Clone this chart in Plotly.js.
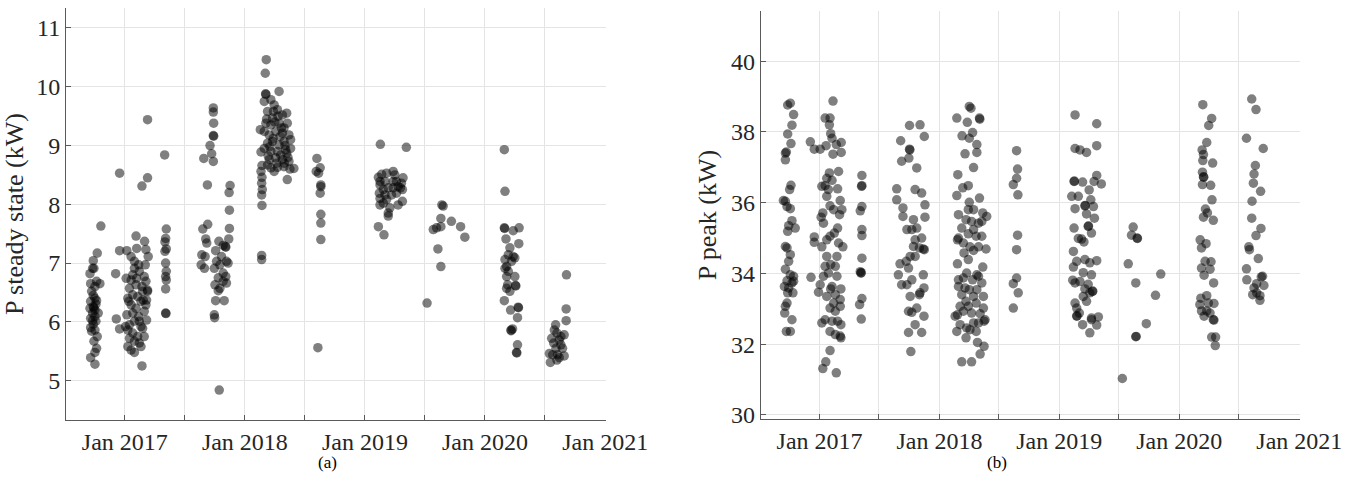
<!DOCTYPE html>
<html>
<head>
<meta charset="utf-8">
<script src="https://cdn.plot.ly/plotly-3.0.1.min.js"></script>
<style>html,body{margin:0;padding:0;background:#fff;}#chart{width:1358px;height:482px;}</style>
</head>
<body>
<div id="chart"></div>
<script>
// ---------- (a) P steady state (kW) ----------
const steadyDates = [
  // autumn 2016
  "2016-10-20","2016-10-09","2016-09-27","2016-09-25","2016-09-17","2016-10-07","2016-10-17","2016-09-19","2016-10-02","2016-09-22","2016-09-27","2016-10-02","2016-10-07","2016-09-19","2016-09-27","2016-09-17","2016-10-02","2016-09-25","2016-10-12","2016-10-02","2016-09-19","2016-10-05","2016-09-27","2016-09-19","2016-10-02","2016-09-22","2016-10-09","2016-09-29","2016-10-07","2016-10-02","2016-09-19","2016-10-02","2016-09-29","2016-10-05","2016-09-25","2016-09-29",
  // winter 2016/17
  "2016-12-16","2017-03-11","2017-02-22","2017-03-11","2016-12-16","2016-12-04","2016-12-06","2016-12-16","2017-01-07","2017-02-04","2017-02-06","2017-03-02","2017-03-06","2017-03-13","2017-03-04","2017-01-20","2017-01-30",
  "2017-01-05","2017-01-25","2017-02-14","2017-03-01","2017-01-15","2017-02-04","2017-02-22","2017-03-11","2017-01-10","2017-01-25","2017-02-09","2017-02-26","2017-01-20","2017-02-04","2017-02-19","2017-03-06","2017-01-07","2017-01-25","2017-02-12","2017-03-01","2017-01-15","2017-01-30","2017-02-19","2017-03-08","2017-01-10","2017-01-25","2017-02-09","2017-02-24","2017-01-15","2017-01-30","2017-02-14","2017-01-10","2017-01-20","2017-02-19","2017-01-30","2017-02-22","2017-01-03","2017-03-11","2017-03-06","2017-02-06","2017-01-20","2017-02-24","2017-02-12","2017-01-30","2017-03-08","2017-01-13","2017-02-14","2017-03-01",
  // May 2017
  "2017-05-02","2017-05-07","2017-05-05","2017-05-03","2017-05-07","2017-05-03","2017-05-05","2017-05-07","2017-05-05","2017-05-07","2017-05-05","2017-05-05","2017-05-06",
  // autumn 2017
  "2017-08-29","2017-09-09","2017-09-27","2017-09-27","2017-09-28","2017-09-27","2017-09-28","2017-09-17","2017-09-22","2017-09-27",
  "2017-08-26","2017-09-10","2017-09-04","2017-09-07","2017-08-23","2017-09-02","2017-08-21","2017-08-31",
  "2017-10-14","2017-10-04","2017-10-27","2017-11-03","2017-11-04","2017-11-13","2017-11-15","2017-11-15","2017-11-14","2017-11-17",
  "2017-10-07","2017-10-22","2017-11-06","2017-11-11","2017-09-30","2017-10-17","2017-10-27","2017-10-12","2017-11-04","2017-10-02","2017-10-17","2017-10-12","2017-11-06","2017-10-27","2017-10-04","2017-10-30","2017-09-30","2017-10-01","2017-10-15",
  // spring 2018
  "2018-03-07","2018-03-04","2018-03-05","2018-03-06","2018-04-15","2018-02-17","2018-02-19","2018-02-22","2018-02-19","2018-02-22","2018-02-21","2018-02-23","2018-02-21","2018-02-22","2018-02-21","2018-02-21",
  "2018-03-01","2018-03-21","2018-03-31","2018-03-11","2018-04-10","2018-04-25","2018-03-26","2018-05-08","2018-03-06","2018-03-21","2018-04-15","2018-05-10","2018-03-01","2018-03-16","2018-04-05","2018-04-25","2018-05-15","2018-03-11","2018-03-26","2018-04-15","2018-04-30","2018-05-20","2018-03-01","2018-03-21","2018-04-10","2018-05-05","2018-05-20","2018-03-16","2018-04-05","2018-04-25","2018-05-15","2018-03-21","2018-04-10","2018-04-30","2018-05-18","2018-03-31","2018-03-11","2018-05-10","2018-04-20","2018-03-29","2018-04-30","2018-05-30","2018-03-13","2018-04-18","2018-05-08",
  "2018-03-08","2018-04-02","2018-04-22","2018-05-03","2018-03-18","2018-04-08","2018-05-12","2018-03-28","2018-04-12","2018-05-01",
  // Aug 2018
  "2018-08-08","2018-08-06","2018-08-18","2018-08-13","2018-08-20","2018-08-20","2018-08-18","2018-08-20","2018-08-20","2018-08-20","2018-08-11",
  // spring 2019
  "2019-02-17","2019-05-07","2019-02-11","2019-02-21","2019-02-16","2019-03-08","2019-03-28","2019-04-02","2019-04-27","2019-04-22","2019-04-12","2019-03-28","2019-03-13","2019-02-26","2019-02-14","2019-03-03","2019-03-23","2019-04-07","2019-04-25","2019-02-16","2019-03-08","2019-02-16","2019-02-26","2019-03-18","2019-03-13","2019-03-13","2019-04-12","2019-04-25","2019-02-11","2019-02-28","2019-03-28","2019-02-16","2019-03-03","2019-04-07","2019-04-19",
  // summer/autumn 2019
  "2019-07-09","2019-08-23","2019-08-27","2019-08-20","2019-08-20","2019-09-21","2019-10-19","2019-11-01","2019-07-28","2019-08-07","2019-08-11","2019-08-20",
  // spring 2020
  "2020-02-29","2020-03-02","2020-02-29","2020-03-01","2020-03-27","2020-04-14","2020-03-05","2020-04-13","2020-03-17","2020-03-12","2020-04-01","2020-03-02","2020-03-22","2020-03-07","2020-03-12","2020-04-01","2020-03-07","2020-03-10","2020-04-03","2020-04-04","2020-03-17","2020-03-07","2020-02-29","2020-03-19","2020-04-11","2020-04-12","2020-04-09","2020-03-20","2020-03-21","2020-03-25","2020-04-09","2020-04-06","2020-04-07","2020-03-02","2020-03-27",
  // summer 2020
  "2020-09-05","2020-09-04","2020-09-04","2020-08-03","2020-07-30","2020-08-07","2020-07-22","2020-08-19","2020-08-29","2020-08-14","2020-07-28","2020-08-24","2020-07-15","2020-08-09","2020-08-29","2020-07-18","2020-08-07","2020-08-19","2020-08-04","2020-07-25","2020-08-14"
];
const steadyKW = [
  7.63,7.17,7.04,6.91,6.82,6.69,6.65,6.65,6.60,6.52,6.45,6.40,6.36,6.35,6.26,6.23,6.20,6.15,6.15,6.09,6.06,6.01,5.96,5.90,5.86,5.84,5.75,5.67,5.55,5.48,5.39,5.28,6.91,6.30,6.02,6.24,
  8.53,9.44,8.31,8.45,7.21,6.82,6.05,5.88,7.21,7.46,7.25,7.37,7.23,7.11,6.97,7.11,7.03,
  6.74,6.80,6.86,6.77,6.57,6.63,6.60,6.54,6.40,6.46,6.43,6.37,6.29,6.23,6.35,6.29,6.12,6.15,6.09,6.18,5.95,6.01,5.92,6.03,5.86,5.81,5.75,5.89,5.72,5.67,5.64,5.58,5.52,5.58,5.48,5.25,5.92,6.52,6.69,6.74,6.71,6.52,6.97,6.91,6.37,6.35,6.01,5.75,
  8.84,7.58,7.42,7.36,7.24,7.20,7.00,6.86,6.77,6.71,6.56,6.15,6.14,
  8.78,8.33,9.64,9.57,9.38,9.17,9.16,9.00,8.86,8.73,
  7.58,7.66,7.41,7.34,7.14,7.11,6.97,6.91,
  7.37,7.21,7.30,7.28,7.27,7.41,7.59,7.90,8.20,8.32,
  7.03,7.11,7.03,7.00,6.91,6.97,6.83,6.75,6.77,6.63,6.57,6.53,6.66,6.69,6.36,6.36,6.12,6.07,4.84,
  10.46,10.23,9.88,9.87,9.92,9.27,8.89,8.66,8.56,8.46,8.36,8.25,8.16,7.98,7.13,7.06,
  9.75,9.78,9.69,9.58,9.61,9.52,9.47,9.55,9.38,9.35,9.38,9.38,9.24,9.18,9.24,9.21,9.18,9.04,9.07,9.01,9.07,9.10,8.95,8.90,8.90,8.93,8.95,8.76,8.79,8.76,8.73,8.62,8.63,8.64,8.60,8.56,8.67,8.42,8.84,9.58,9.30,8.61,8.82,9.15,8.87,
  9.45,9.40,9.30,9.00,8.98,8.70,8.80,9.12,9.50,8.70,
  8.78,8.56,8.62,8.53,8.33,8.30,8.19,7.83,7.68,7.40,5.56,
  9.02,8.97,8.46,8.51,8.39,8.53,8.56,8.50,8.45,8.36,8.30,8.28,8.28,8.25,8.19,8.16,8.16,8.19,8.25,8.10,8.08,7.99,8.02,7.94,7.85,7.80,7.99,8.05,7.62,7.48,8.39,8.33,8.39,8.39,8.28,
  6.32,7.99,7.97,7.76,7.62,7.71,7.62,7.44,7.57,7.60,7.24,6.94,
  8.93,8.22,7.60,7.59,7.55,7.60,7.41,7.33,7.26,7.14,7.09,7.06,7.03,6.94,6.86,6.77,6.77,6.63,6.62,6.61,6.52,6.57,6.36,6.20,6.25,6.24,6.07,5.86,5.85,5.88,5.61,5.48,5.47,6.91,7.11,
  6.80,6.22,6.02,5.95,5.86,5.81,5.72,5.75,5.78,5.69,5.64,5.55,5.46,5.44,5.42,5.31,5.35,5.61,5.55,5.44,5.39
];

// ---------- (b) P peak (kW) ----------
const peakDates = [
  "2016-10-04","2016-09-26","2016-10-14","2016-10-09","2016-09-26","2016-10-06","2016-09-19","2016-09-22","2016-09-19","2016-10-06","2016-10-02","2016-09-13","2016-09-19","2016-09-24","2016-10-04","2016-10-09","2016-09-29","2016-10-19","2016-09-26","2016-09-19","2016-09-24","2016-10-04","2016-09-29","2016-09-19","2016-10-04","2016-10-14","2016-09-24","2016-10-09","2016-09-16","2016-09-29","2016-09-26","2016-10-12","2016-09-24","2016-09-19","2016-09-17","2016-10-09","2016-09-22","2016-10-04","2016-10-14",
  "2017-02-11","2017-01-18","2017-02-02","2017-01-31","2017-02-04","2017-02-08","2016-12-04","2016-12-16","2017-01-03","2017-01-21","2017-02-21","2017-03-08","2017-03-08","2017-02-11",
  "2017-01-31","2017-01-23","2017-01-18","2017-02-08","2017-02-28","2017-02-25","2017-01-08","2017-01-28","2017-03-05","2017-03-10","2017-02-02","2017-01-11","2017-01-06","2017-01-13","2017-03-03","2017-02-25","2017-02-15","2017-02-02","2017-01-23","2017-01-08","2017-03-13","2016-12-16","2016-12-16","2017-02-23","2017-02-04","2017-02-18","2017-01-18","2017-01-28","2016-12-06","2017-01-03","2016-12-29","2017-02-08","2017-02-04","2017-02-18","2017-03-07","2017-01-23","2017-02-13","2017-03-05","2017-02-02","2017-02-18","2017-03-05","2017-01-18","2017-01-08","2017-02-08","2017-02-25","2017-03-07","2017-02-02","2017-02-18","2017-03-07","2017-03-05","2017-02-02","2017-01-20","2017-01-11","2017-02-21","2017-01-23","2017-02-13","2017-01-23","2017-02-28","2017-01-13","2017-02-23",
  "2017-05-10","2017-05-10","2017-05-09","2017-05-10","2017-05-05","2017-05-10","2017-05-10","2017-05-10","2017-05-05","2017-05-07","2017-05-08","2017-05-10","2017-05-03","2017-05-08",
  "2017-10-02","2017-11-03","2017-11-16","2017-09-05","2017-10-02","2017-10-03","2017-09-30","2017-09-08","2017-10-24","2017-08-24","2017-10-19","2017-11-08","2017-08-24","2017-09-12","2017-11-18","2017-09-12","2017-10-14","2017-10-24","2017-09-24","2017-10-09","2017-11-18","2017-10-19","2017-11-08","2017-10-14","2017-11-01","2017-11-16","2017-11-13","2017-10-04","2017-10-19","2017-09-22","2017-09-03","2017-09-29","2017-08-29","2017-09-24","2017-09-08","2017-10-09","2017-11-13","2017-10-04","2017-11-03","2017-11-15","2017-09-29","2017-10-09","2017-10-24","2017-11-15","2017-10-19","2017-09-29","2017-11-08","2017-10-06","2017-11-01",
  "2018-04-02","2018-04-07","2018-02-23","2018-03-27","2018-05-03","2018-05-04","2018-03-11","2018-04-02","2018-04-12","2018-04-25","2018-03-20","2018-04-25","2018-04-15","2018-02-26","2018-03-13","2018-03-30","2018-02-23","2018-05-03","2018-04-02","2018-03-30","2018-04-15","2018-02-28","2018-03-23","2018-05-13","2018-05-25","2018-04-09","2018-04-30","2018-05-10","2018-03-10","2018-04-15","2018-03-30","2018-04-23","2018-05-10","2018-02-28","2018-02-25","2018-03-15","2018-05-23","2018-04-04","2018-04-15","2018-04-30","2018-03-17","2018-03-30","2018-05-13","2018-02-25","2018-03-25","2018-04-25","2018-02-28","2018-03-15","2018-04-12","2018-04-30","2018-05-10","2018-02-28","2018-03-20","2018-04-02","2018-04-25","2018-03-10","2018-04-15","2018-05-15","2018-03-23","2018-04-23","2018-03-05","2018-03-30","2018-05-15","2018-02-25","2018-03-15","2018-04-09","2018-05-05","2018-05-20","2018-03-05","2018-03-25","2018-04-15","2018-04-30","2018-05-17","2018-02-23","2018-04-04","2018-04-23","2018-03-23","2018-04-27","2018-05-17","2018-05-05","2018-03-10","2018-04-09","2018-02-18",
  "2018-08-24","2018-08-27","2018-08-24","2018-08-14","2018-08-28","2018-08-27","2018-08-24","2018-08-24","2018-08-14","2018-08-29","2018-08-14",
  "2019-02-18","2019-04-25","2019-04-25","2019-02-18","2019-03-05","2019-03-25","2019-04-25","2019-02-15","2019-02-16","2019-03-13","2019-04-17","2019-05-09","2019-04-02","2019-02-08","2019-02-28","2019-04-07","2019-03-20","2019-03-21","2019-02-18","2019-04-15","2019-03-25","2019-04-18","2019-02-15","2019-03-30","2019-03-31","2019-02-28","2019-03-10","2019-04-09","2019-03-17","2019-02-13","2019-03-20","2019-04-25","2019-02-23","2019-04-04","2019-02-13","2019-03-15","2019-04-09","2019-02-11","2019-03-05","2019-03-30","2019-02-18","2019-03-20","2019-04-12","2019-04-13","2019-03-15","2019-04-04","2019-03-25","2019-02-18","2019-02-23","2019-03-03","2019-04-09","2019-04-30","2019-03-13","2019-04-25","2019-04-04","2019-02-23","2019-02-24","2019-04-09",
  "2019-08-14","2019-08-09","2019-08-27","2019-08-26","2019-07-30","2019-08-22","2019-11-06","2019-10-21","2019-09-23","2019-08-22","2019-08-23","2019-07-12",
  "2020-03-13","2020-04-09","2020-03-31","2020-03-25","2020-03-11","2020-03-15","2020-03-13","2020-04-12","2020-03-12","2020-03-15","2020-03-16","2020-03-12","2020-04-06","2020-04-10","2020-03-21","2020-03-27","2020-04-14","2020-03-15","2020-03-05","2020-03-09","2020-03-23","2020-03-20","2020-04-07","2020-03-09","2020-04-04","2020-03-17","2020-04-15","2020-03-25","2020-03-07","2020-03-04","2020-03-30","2020-04-16","2020-03-09","2020-03-25","2020-03-17","2020-04-04","2020-04-14","2020-04-16","2020-04-09","2020-04-21","2020-04-20",
  "2020-08-09","2020-08-22","2020-07-24","2020-09-13","2020-08-20","2020-08-16","2020-08-14","2020-09-05","2020-08-10","2020-08-09","2020-09-06","2020-08-22","2020-07-31","2020-08-02","2020-08-29","2020-07-24","2020-09-07","2020-09-11","2020-07-25","2020-08-24","2020-09-15","2020-08-16","2020-08-24","2020-08-12","2020-09-03","2020-09-03"
];
const peakKW = [
  38.81,38.76,38.49,38.19,37.94,37.67,37.40,37.43,37.21,36.49,36.37,36.06,36.04,35.89,35.83,35.49,35.35,35.28,35.19,34.76,34.72,34.53,34.34,34.12,33.96,33.92,33.79,33.73,33.63,33.59,33.45,33.45,33.16,33.07,32.88,32.69,32.36,32.36,33.78,
  38.87,38.39,38.39,38.20,37.95,37.82,37.72,37.51,37.51,37.61,37.64,37.70,37.42,37.37,
  36.84,36.69,36.48,36.63,36.88,36.39,36.46,36.37,36.06,35.80,35.91,35.71,35.59,35.42,35.66,35.28,35.14,35.05,34.95,34.75,34.75,35.03,34.88,34.48,34.25,34.20,34.20,34.01,33.89,33.68,33.47,33.63,33.56,33.40,33.56,33.35,33.16,33.26,33.02,32.93,33.07,32.69,32.60,32.65,32.65,32.55,32.36,32.27,32.18,32.23,31.82,31.50,31.31,31.19,34.48,35.80,36.18,34.86,33.92,33.92,
  36.77,36.48,36.46,35.89,35.77,35.24,35.07,34.43,34.05,34.01,34.02,33.29,33.12,32.71,
  38.18,38.20,37.87,37.75,37.51,37.49,37.26,37.17,36.98,36.39,36.37,36.27,36.08,35.85,35.94,35.61,35.52,35.28,35.24,35.24,35.59,34.95,35.00,34.76,34.72,34.67,34.69,34.48,34.48,34.34,34.27,34.15,33.96,33.68,33.68,33.82,33.96,33.35,33.45,33.59,32.93,32.90,33.02,32.79,32.55,32.33,32.33,31.79,33.40,
  38.72,38.67,38.39,38.27,38.39,38.36,37.89,37.82,37.98,37.64,37.38,37.42,36.99,36.79,36.42,36.48,36.20,36.13,36.01,35.80,35.80,35.66,35.52,35.71,35.61,35.47,35.42,35.47,35.28,35.24,35.12,35.05,35.05,35.00,34.95,34.86,34.69,34.75,34.65,34.75,34.58,34.39,34.18,34.27,34.01,33.96,33.82,33.87,33.82,33.92,33.73,33.63,33.59,33.54,33.54,33.40,33.35,33.35,33.21,33.16,33.07,33.07,33.02,32.83,32.93,32.88,32.86,32.69,32.55,32.46,32.60,32.60,32.65,32.36,32.41,32.36,32.18,32.05,31.94,31.72,31.50,31.50,32.79,
  37.47,36.95,36.69,36.51,36.22,35.08,34.67,33.87,33.71,33.45,33.02,
  38.48,38.23,37.61,37.53,37.49,37.42,36.77,36.60,36.61,36.58,36.60,36.53,36.36,36.18,36.18,36.08,35.91,35.92,35.83,35.89,35.68,35.56,35.28,35.33,35.34,34.99,34.97,35.14,34.89,34.62,34.39,34.36,34.34,34.30,34.18,34.02,33.96,33.81,33.77,33.69,33.73,33.56,33.49,33.50,33.35,33.45,33.21,33.16,33.02,32.88,32.74,32.77,32.55,32.54,32.32,32.79,32.80,32.69,
  35.31,35.08,34.99,35.00,34.27,33.73,33.98,33.38,32.58,32.21,32.22,31.03,
  38.77,38.38,38.18,37.70,37.49,37.36,37.19,37.12,36.86,36.73,36.72,36.51,36.49,36.08,35.82,35.71,35.50,35.59,34.95,34.72,34.84,34.34,34.33,34.15,34.12,33.95,33.73,33.37,33.30,33.12,33.16,33.15,32.94,32.94,32.79,32.88,32.69,32.68,32.20,32.20,31.96,
  38.93,38.63,37.82,37.53,37.05,36.81,36.55,36.32,36.04,35.56,35.27,35.07,34.75,34.67,34.42,34.13,33.90,33.92,33.82,33.71,33.66,33.59,33.45,33.40,33.37,33.24
];

// ---------- axis ticks ----------
const xTickDates = ["2017-01-01","2017-07-01","2018-01-01","2018-07-01","2019-01-01","2019-07-01","2020-01-01","2020-07-01","2021-01-01"];
const xTickLabels = ["Jan 2017","","Jan 2018","","Jan 2019","","Jan 2020","","Jan 2021"];
const steadyTicks = [5,6,7,8,9,10,11];
const peakTicks = [30,32,34,36,38,40];
const xRange = ["2016-07-06","2021-01-03"];

const marker = {size: 9.5, color: 'rgba(0,0,0,0.5)', line: {width: 0}};

const traces = [
  {type:'scatter', mode:'markers', x: steadyDates, y: steadyKW, xaxis:'x', yaxis:'y', marker: marker, hoverinfo:'x+y'},
  {type:'scatter', mode:'markers', x: peakDates, y: peakKW, xaxis:'x2', yaxis:'y2', marker: marker, hoverinfo:'x+y'}
];

const FONT = '"Liberation Serif", "Times New Roman", Times, serif';
const axisCommon = {
  showline: true, linecolor: '#5a5a5a', linewidth: 1,
  ticks: 'inside', ticklen: 5, tickcolor: '#5a5a5a', tickwidth: 1,
  showgrid: true, gridcolor: '#e4e4e4', gridwidth: 1,
  zeroline: false, mirror: false,
  tickfont: {family: FONT, size: 24, color: '#262626'}
};

const layout = {
  width: 1358, height: 482,
  margin: {l: 0, r: 0, t: 8, b: 62},
  paper_bgcolor: '#ffffff', plot_bgcolor: '#ffffff',
  showlegend: false,
  font: {family: FONT, size: 24, color: '#262626'},
  xaxis: Object.assign({}, axisCommon, {
    type: 'date', domain: [0.0486, 0.4462], range: xRange, anchor: 'y',
    tickmode: 'array', tickvals: xTickDates, ticktext: xTickLabels
  }),
  yaxis: Object.assign({}, axisCommon, {
    domain: [0, 1], range: [4.33, 11.34], anchor: 'x',
    tickmode: 'array', tickvals: steadyTicks,
    title: {text: 'P steady state (kW)', font: {family: FONT, size: 26, color: '#262626'}, standoff: 6}
  }),
  xaxis2: Object.assign({}, axisCommon, {
    type: 'date', domain: [0.5602, 0.9573], range: xRange, anchor: 'y2',
    tickmode: 'array', tickvals: xTickDates, ticktext: xTickLabels
  }),
  yaxis2: Object.assign({}, axisCommon, {
    domain: [0.002, 0.993], range: [29.88, 41.42], anchor: 'x2',
    tickmode: 'array', tickvals: peakTicks,
    title: {text: 'P peak (kW)', font: {family: FONT, size: 26, color: '#262626'}, standoff: 6}
  }),
  annotations: [
    {text: '(a)', xref: 'paper', yref: 'paper', x: 0.2415, y: -0.102, xanchor: 'center', yanchor: 'middle', showarrow: false, font: {family: FONT, size: 17, color: '#000'}},
    {text: '(b)', xref: 'paper', yref: 'paper', x: 0.7342, y: -0.102, xanchor: 'center', yanchor: 'middle', showarrow: false, font: {family: FONT, size: 17, color: '#000'}}
  ]
};

Plotly.newPlot('chart', traces, layout, {staticPlot: true, displayModeBar: false});
</script>
</body>
</html>
